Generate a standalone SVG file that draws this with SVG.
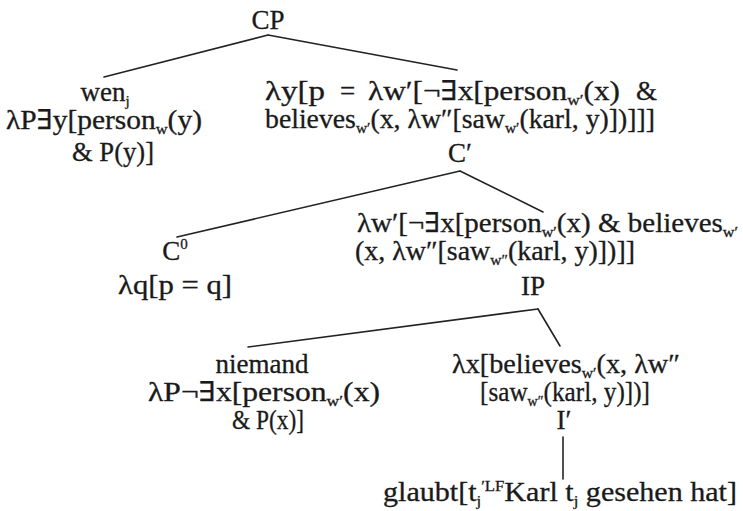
<svg xmlns="http://www.w3.org/2000/svg" width="743" height="511" viewBox="0 0 743 511">
<style>
text{font-family:"Liberation Serif","Tinos","DejaVu Serif",serif;font-size:27px;fill:#1a1a1a;stroke:#1a1a1a;stroke-width:0.3}
.m{text-anchor:middle}
.s{font-size:15px}
#edges line{stroke:#222;stroke-width:1.6;stroke-linecap:round}
</style>
<rect width="743" height="511" fill="#fff"/>
<g id="edges">
<line x1="268" y1="35" x2="104" y2="77"/>
<line x1="268" y1="35" x2="457" y2="70"/>
<line x1="460" y1="171" x2="177" y2="237"/>
<line x1="460" y1="171" x2="543" y2="212"/>
<line x1="538" y1="309" x2="248" y2="347"/>
<line x1="538" y1="309" x2="560" y2="346"/>
<line x1="563" y1="437" x2="563" y2="479"/>
</g>
<g id="n-CP">
<text class="m" x="268" y="29">CP</text>
</g>
<g id="n-wen">
<text class="m" x="105" y="101">wen<tspan class="s" dy="5">j</tspan></text>
<text x="6" y="129" textLength="196" lengthAdjust="spacingAndGlyphs">λP∃y[person<tspan class="s" dy="5">w</tspan><tspan dy="-5">(y)</tspan></text>
<text x="72" y="161" textLength="82" lengthAdjust="spacingAndGlyphs">&amp; P(y)]</text>
</g>
<g id="n-Cbar">
<text x="265" y="100" textLength="60" lengthAdjust="spacingAndGlyphs">λy[p</text>
<text x="340" y="100">=</text>
<text x="368" y="100" textLength="252" lengthAdjust="spacingAndGlyphs">λw′[¬∃x[person<tspan class="s" dy="5">w′</tspan><tspan dy="-5">(x)</tspan></text>
<text x="636" y="100">&amp;</text>
<text x="265" y="128" textLength="390" lengthAdjust="spacingAndGlyphs">believes<tspan class="s" dy="5">w′</tspan><tspan dy="-5">(x, λw″[saw</tspan><tspan class="s" dy="5">w′</tspan><tspan dy="-5">(karl, y)])]]]</tspan></text>
<text class="m" x="460" y="162">C′</text>
</g>
<g id="n-C0">
<text class="m" x="175" y="260">C<tspan class="s" dy="-11">0</tspan></text>
<text x="118" y="294" textLength="114" lengthAdjust="spacingAndGlyphs">λq[p = q]</text>
</g>
<g id="n-IP">
<text x="357" y="232" textLength="381" lengthAdjust="spacingAndGlyphs">λw′[¬∃x[person<tspan class="s" dy="5">w′</tspan><tspan dy="-5">(x) &amp; believes</tspan><tspan class="s" dy="5">w′</tspan></text>
<text x="355" y="260" textLength="280" lengthAdjust="spacingAndGlyphs">(x, λw″[saw<tspan class="s" dy="5">w″</tspan><tspan dy="-5">(karl, y)])]]</tspan></text>
<text class="m" x="533" y="295">IP</text>
</g>
<g id="n-niemand">
<text class="m" x="262" y="373">niemand</text>
<text x="148" y="401" textLength="232" lengthAdjust="spacingAndGlyphs">λP¬∃x[person<tspan class="s" dy="5">w′</tspan><tspan dy="-5">(x)</tspan></text>
<text x="232" y="429" textLength="72" lengthAdjust="spacingAndGlyphs">&amp; P(x)]</text>
</g>
<g id="n-Ibar">
<text x="452" y="373" textLength="228" lengthAdjust="spacingAndGlyphs">λx[believes<tspan class="s" dy="5">w′</tspan><tspan dy="-5">(x, λw″</tspan></text>
<text x="480" y="401" textLength="170" lengthAdjust="spacingAndGlyphs">[saw<tspan class="s" dy="5">w″</tspan><tspan dy="-5">(karl, y)])]</tspan></text>
<text class="m" x="564" y="429">I′</text>
</g>
<g id="n-glaubt">
<text x="383" y="501" textLength="354" lengthAdjust="spacingAndGlyphs">glaubt[t<tspan class="s" dy="5">j</tspan><tspan class="s" dy="-15">′LF</tspan><tspan dy="10">Karl t</tspan><tspan class="s" dy="5">j</tspan><tspan dy="-5"> gesehen hat]</tspan></text>
</g>
</svg>
